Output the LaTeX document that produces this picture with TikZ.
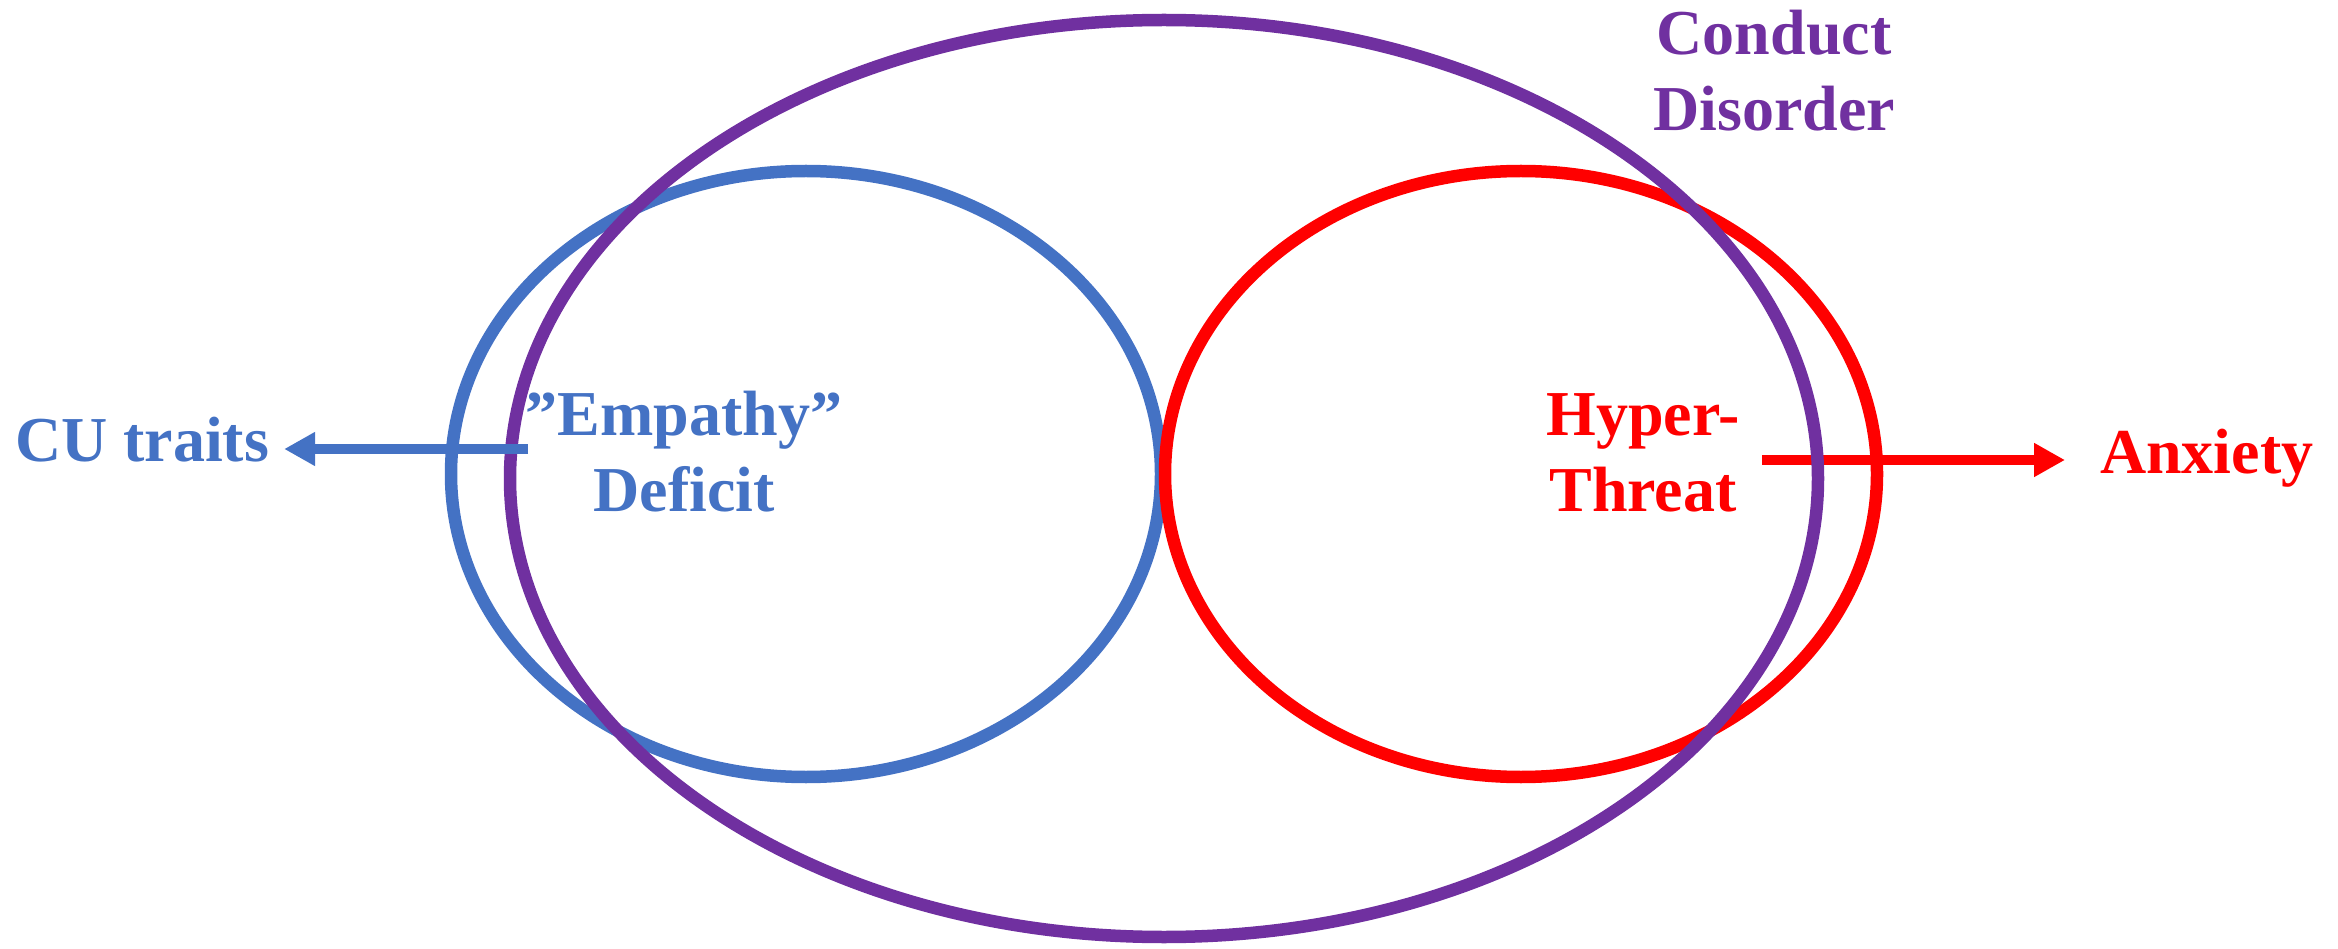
\documentclass[tikz,border=0pt]{standalone}
\usepackage{fontspec}
\setmainfont{Liberation Serif}
\usetikzlibrary{arrows.meta}
\definecolor{cdpurple}{HTML}{7030A0}
\definecolor{cublue}{HTML}{4472C4}
\definecolor{thred}{HTML}{FF0000}

\begin{document}
\begin{tikzpicture}[x=1pt,y=-1pt,
  ring/.style={line width=12.5pt},
  lbl/.style={inner sep=0pt, outer sep=0pt,
    font=\fontsize{64}{76}\selectfont\bfseries, align=center},
  pointer/.style={line width=10pt, -{Triangle[length=31pt,width=32pt]}}]
\useasboundingbox (0,0) rectangle (2338,949);

% centres of the three sets
\coordinate (cb) at (806,474);
\coordinate (cr) at (1521,474);
\coordinate (cp) at (1164,478.5);

% labels (two-line labels are placed by the baseline of their last line)
\node[lbl, text=cublue, anchor=base west] (cu) at (15,461) {CU traits};
\node[lbl, text=thred, anchor=base west] (anx) at (2100,474) {Anxiety};
\node[lbl, text=cdpurple, anchor=base] (cd) at (1774,131) {Conduct\\Disorder};
\node[lbl, text=cublue, anchor=base] (emp) at (684,511) {''Empathy''\\Deficit};
\node[lbl, text=thred, anchor=base] (hyp) at (1643,511) {Hyper-\\Threat};

% the two inner sets
\draw[ring, cublue] (cb) ellipse [x radius=355pt, y radius=303pt];
\draw[ring, thred] (cr) ellipse [x radius=356pt, y radius=303pt];

% arrow from hyper-threat out to anxiety
\coordinate (rs) at (1762,460);
\path (anx.west) ++(-35,0) coordinate (anxtip);
\draw[pointer, thred] (rs) -- (anxtip |- rs);

% conduct disorder set
\draw[ring, cdpurple] (cp) ellipse [x radius=654pt, y radius=458.5pt];

% arrow from empathy deficit out to CU traits
\coordinate (bs) at (528,449);
\path (cu.east) ++(15,0) coordinate (cutip);
\draw[pointer, cublue] (bs) -- (cutip |- bs);
\end{tikzpicture}
\end{document}
